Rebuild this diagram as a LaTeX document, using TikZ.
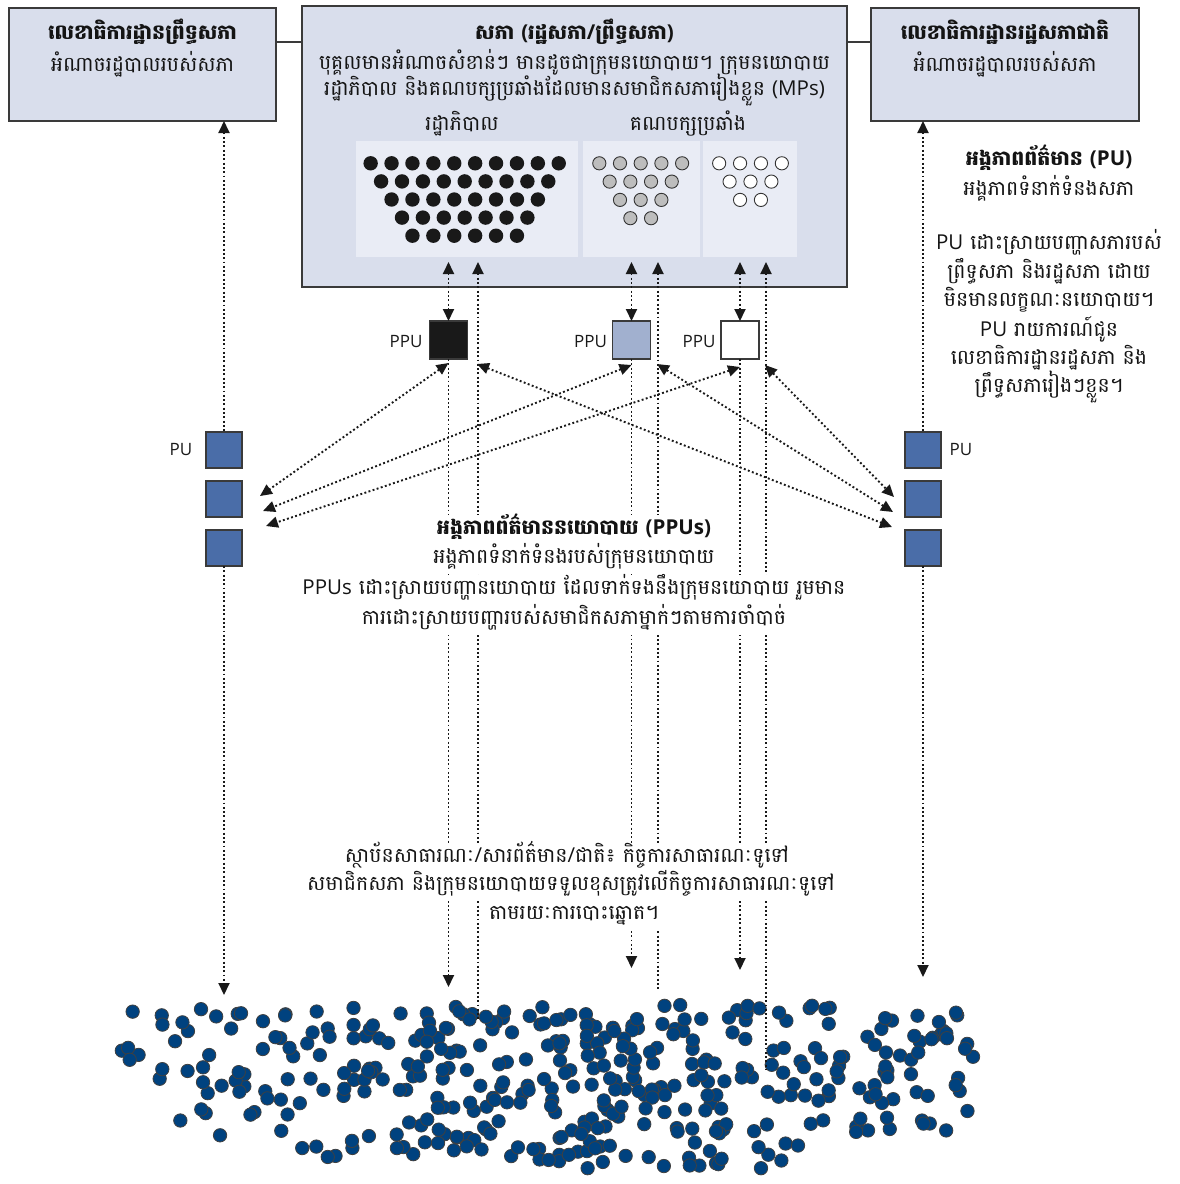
\documentclass[tikz,border=0pt]{standalone}
\usepackage{fontspec}
\setmainfont[Script=Khmer]{Battambang}
\newfontfamily\latf{Open Sans}
\newcommand\la[1]{{\latf #1}}
\usetikzlibrary{arrows.meta,calc}
\definecolor{boxc}{HTML}{D9DEEC}
\definecolor{panelc}{HTML}{E9ECF5}
\definecolor{bordc}{HTML}{3A3A3A}
\definecolor{pufill}{HTML}{4A6DA8}
\definecolor{ppublue}{HTML}{A1B0CF}
\definecolor{grayd}{HTML}{BDBDBD}
\definecolor{crowd}{HTML}{00427F}
\begin{document}
\begin{tikzpicture}[x=1pt,y=-1pt,
  bigbox/.style={draw=bordc,line width=1.4pt,fill=boxc,inner sep=0pt,outer sep=0pt},
  panel/.style={fill=panelc,inner sep=0pt,outer sep=0pt,minimum height=116pt},
  sq/.style={draw=bordc,line width=1.2pt,inner sep=0pt,outer sep=0pt,minimum width=#1,minimum height=#1},
  pusq/.style={sq=36pt,fill=pufill},
  ppusq/.style={sq=38pt},
  txt/.style={font=\fontsize{20.5}{24}\selectfont,inner sep=0pt,text=black!92},
  wtxt/.style={font=\fontsize{20.5}{24}\selectfont,fill=white,inner xsep=2pt,inner ysep=0pt,text height=19pt,text depth=11pt,text=black!92},
  lbl/.style={font=\fontsize{17}{20}\selectfont\latf,inner sep=0pt,text=black!90},
  dl/.style={line width=1.9pt,dash pattern=on 1.9pt off 2.4pt,draw=black!90},
  tipboth/.style={{Triangle[length=12pt,width=11pt]}-{Triangle[length=12pt,width=11pt]}},
  tipstart/.style={{Triangle[length=12pt,width=11pt]}-},
  tipend/.style={-{Triangle[length=12pt,width=11pt]}},
  crowddot/.style={fill=crowd,draw=black!75,line width=0.8pt},
  declare function={
    crowdbot(\u)= \u<130 ? 1040+(\u-110)*1.25 : (\u<150 ? 1065+(\u-130)*1.35 : (\u<185 ? 1092+(\u-150)*1.03 : (\u<216 ? 1128+(\u-185)*0.58 : (\u<320 ? 1146+(\u-216)*0.115 : (\u<470 ? 1158-(\u-320)*0.04 : (\u<560 ? 1152+(\u-470)*0.144 : (\u<613 ? 1165+(\u-560)*0.245 : (\u<640 ? 1178-(\u-613)*0.22 : (\u<763 ? 1172 : (\u<800 ? 1172-(\u-763)*0.59 : (\u<840 ? 1150-(\u-800)*0.25 : (\u<890 ? 1140-(\u-840)*0.2 : (\u<960 ? 1130+(\u-890)*0.14 : 1140-(\u-960)*3.4)))))))))))));
    crowdtop(\u)= \u<125 ? 1025 : (\u>965 ? 1040 : 1005);
    crowdden(\u)= (\u>420 && \u<810) ? 0.85 : 0.68;
  }]
\useasboundingbox (0,0) rectangle (1179,1184);

% ---- top boxes
\node[bigbox,minimum width=267pt,minimum height=113pt] (lb) at (142.5,64.5) {};
\node[bigbox,minimum width=545pt,minimum height=281pt] (cb) at (574.5,146.5) {};
\node[bigbox,minimum width=268pt,minimum height=113pt] (rb) at (1005,64.5) {};
\draw[draw=bordc,line width=1.4pt] (lb.east |- 0,42) -- (cb.west |- 0,42);
\draw[draw=bordc,line width=1.4pt] (cb.east |- 0,42) -- (rb.west |- 0,42);

\node[txt] (lbt) at (142.5,32) {\bfseries លេខាធិការដ្ឋានព្រឹទ្ធសភា};
\node[txt] (lbs) at (142.5,64) {អំណាចរដ្ឋបាលរបស់សភា};
\node[txt] (rbt) at (1005,32) {\bfseries លេខាធិការដ្ឋានរដ្ឋសភាជាតិ};
\node[txt] (rbs) at (1005,64) {អំណាចរដ្ឋបាលរបស់សភា};
\node[txt] (cbt) at (574.5,32) {\bfseries សភា \la{(}រដ្ឋសភា\la{/}ព្រឹទ្ធសភា\la{)}};
\node[txt] (cb1) at (574.5,62) {បុគ្គលមានអំណាចសំខាន់ៗ មានដូចជាក្រុមនយោបាយ។ ក្រុមនយោបាយ};
\node[txt] (cb2) at (574.5,90) {រដ្ឋាភិបាល និងគណបក្សប្រឆាំងដែលមានសមាជិកសភារៀងខ្លួន \la{(MPs)}};
\node[txt] (gl) at (462,124) {រដ្ឋាភិបាល};
\node[txt] (ol) at (688,124) {គណបក្សប្រឆាំង};

% ---- panels and seats
\node[panel,minimum width=222pt] (gp) at (467,199) {};
\node[panel,minimum width=117pt] (op1) at (641.5,199) {};
\node[panel,minimum width=94pt] (op2) at (750,199) {};
\foreach \n [count=\r from 0] in {10,9,8,7,6}
  \foreach \k in {1,...,\n}
    \fill[black!90] ({464.7+(\k-(\n+1)/2)*20.9},{163.3+18.1*\r}) circle (7.2);
\foreach \n [count=\r from 0] in {5,4,3,2}
  \foreach \k in {1,...,\n}
    \filldraw[fill=grayd,draw=black!80,line width=0.9pt] ({640.7+(\k-(\n+1)/2)*20.7},{163.3+18.3*\r}) circle (6.6);
\foreach \n [count=\r from 0] in {4,3,2}
  \foreach \k in {1,...,\n}
    \filldraw[fill=white,draw=black!80,line width=0.9pt] ({750.5+(\k-(\n+1)/2)*20.9},{163.3+18.3*\r}) circle (6.6);

% ---- PPU squares
\node[ppusq,fill=black!90] (pk) at (448.5,340) {};
\node[ppusq,fill=ppublue] (pb) at (631.5,340) {};
\node[ppusq,fill=white] (pw) at (740,340) {};
\node[lbl] (pkl) at (406,342) {PPU};
\node[lbl] (pbl) at (590.5,342) {PPU};
\node[lbl] (pwl) at (699,342) {PPU};

% ---- PU squares
\node[pusq] (pl1) at (224,450) {};
\node[pusq] (pl2) at (224,499) {};
\node[pusq] (pl3) at (224,548) {};
\node[pusq] (pr1) at (923,450) {};
\node[pusq] (pr2) at (923,499) {};
\node[pusq] (pr3) at (923,548) {};
\node[lbl] (pll) at (181,450) {PU};
\node[lbl] (prl) at (961,450) {PU};

% ---- crowd
\pgfmathsetseed{2024}
\foreach \i in {1,...,660}{
  \pgfmathsetmacro\cx{108+880*rnd}
  \pgfmathsetmacro\cy{998+182*rnd}
  \pgfmathsetmacro\pr{rnd}
  \pgfmathtruncatemacro\ok{((\cy<crowdbot(\cx)) && (\cy>crowdtop(\cx)) && (\pr<crowdden(\cx))) ? 1 : 0}
  \ifnum\ok=1 \filldraw[crowddot] (\cx,\cy) circle (6.7);\fi
}

% ---- coordinates
\coordinate (tk1) at (448.5,262); \coordinate (tk2) at (478,262);
\coordinate (tb1) at (631.5,262); \coordinate (tb2) at (658,262);
\coordinate (tw1) at (740,262);   \coordinate (tw2) at (766,262);
\coordinate (bk1) at (448.5,987); \coordinate (bk2) at (478,1020);
\coordinate (bb1) at (631.5,968); \coordinate (bb2) at (658,990);
\coordinate (bw1) at (740,970);   \coordinate (bw2) at (766,1070);
\coordinate (ak1) at (448.5,363); \coordinate (ak2) at (477,364);
\coordinate (ab1) at (631.5,365); \coordinate (ab2) at (657,364);
\coordinate (aw1) at (740,367);   \coordinate (aw2) at (765,365);
\coordinate (dl1) at (260,496); \coordinate (dl2) at (263,511); \coordinate (dl3) at (266,526);
\coordinate (dr1) at (894,497); \coordinate (dr2) at (893,512); \coordinate (dr3) at (892,527);
\coordinate (bl) at (224,995); \coordinate (br) at (923,977);

% ---- connectors
\draw[dl,tipboth] (tk1) -- (pk.north);
\draw[dl,tipboth] (tb1) -- (pb.north);
\draw[dl,tipboth] (tw1) -- (pw.north);
\draw[dl,tipstart] (tk2) -- (bk2);
\draw[dl,tipstart] (tb2) -- (bb2);
\draw[dl,tipstart] (tw2) -- (bw2);
\draw[dl,tipend] (pk.south) -- (bk1);
\draw[dl,tipend] (pb.south) -- (bb1);
\draw[dl,tipend] (pw.south) -- (bw1);
\draw[dl,tipboth] (ak1) -- (dl1);
\draw[dl,tipboth] (ab1) -- (dl2);
\draw[dl,tipboth] (aw1) -- (dl3);
\draw[dl,tipboth] (aw2) -- (dr1);
\draw[dl,tipboth] (ab2) -- (dr2);
\draw[dl,tipboth] (ak2) -- (dr3);
\draw[dl,tipstart] (pl1.north |- lb.south) -- (pl1.north);
\draw[dl,tipend] (pl3.south) -- (bl);
\draw[dl,tipstart] (pr1.north |- rb.south) -- (pr1.north);
\draw[dl,tipend] (pr3.south) -- (br);

% ---- text blocks
\node[txt] (u1) at (1049,158) {\bfseries អង្គភាពព័ត៌មាន \la{\bfseries (PU)}};
\node[txt] (u2) at (1049,188) {អង្គភាពទំនាក់ទំនងសភា};
\node[txt] (u3) at (1049,242) {\la{PU} ដោះស្រាយបញ្ហាសភារបស់};
\node[txt] (u4) at (1049,271) {ព្រឹទ្ធសភា និងរដ្ឋសភា ដោយ};
\node[txt] (u5) at (1049,300) {មិនមានលក្ខណៈនយោបាយ។};
\node[txt] (u6) at (1049,329) {\la{PU} រាយការណ៍ជូន};
\node[txt] (u7) at (1049,358) {លេខាធិការដ្ឋានរដ្ឋសភា និង};
\node[txt] (u8) at (1049,387) {ព្រឹទ្ធសភារៀងៗខ្លួន។};

\node[wtxt] (p1) at (574,530) {\bfseries អង្គភាពព័ត៌មាននយោបាយ \la{\bfseries (PPUs)}};
\node[wtxt] (p2) at (574,559) {អង្គភាពទំនាក់ទំនងរបស់ក្រុមនយោបាយ};
\node[wtxt] (p3) at (574,590) {\la{PPUs} ដោះស្រាយបញ្ហានយោបាយ ដែលទាក់ទងនឹងក្រុមនយោបាយ រួមមាន};
\node[wtxt] (p4) at (574,620) {ការដោះស្រាយបញ្ហារបស់សមាជិកសភាម្នាក់ៗតាមការចាំបាច់};

\node[wtxt] (s1) at (567,858) {ស្ថាប័នសាធារណៈ\la{/}សារព័ត៌មាន\la{/}ជាតិ៖ កិច្ចការសាធារណៈទូទៅ};
\node[wtxt] (s2) at (571,886) {សមាជិកសភា និងក្រុមនយោបាយទទួលខុសត្រូវលើកិច្ចការសាធារណៈទូទៅ};
\node[wtxt] (s3) at (574,915) {តាមរយៈការបោះឆ្នោត។};
\end{tikzpicture}
\end{document}
